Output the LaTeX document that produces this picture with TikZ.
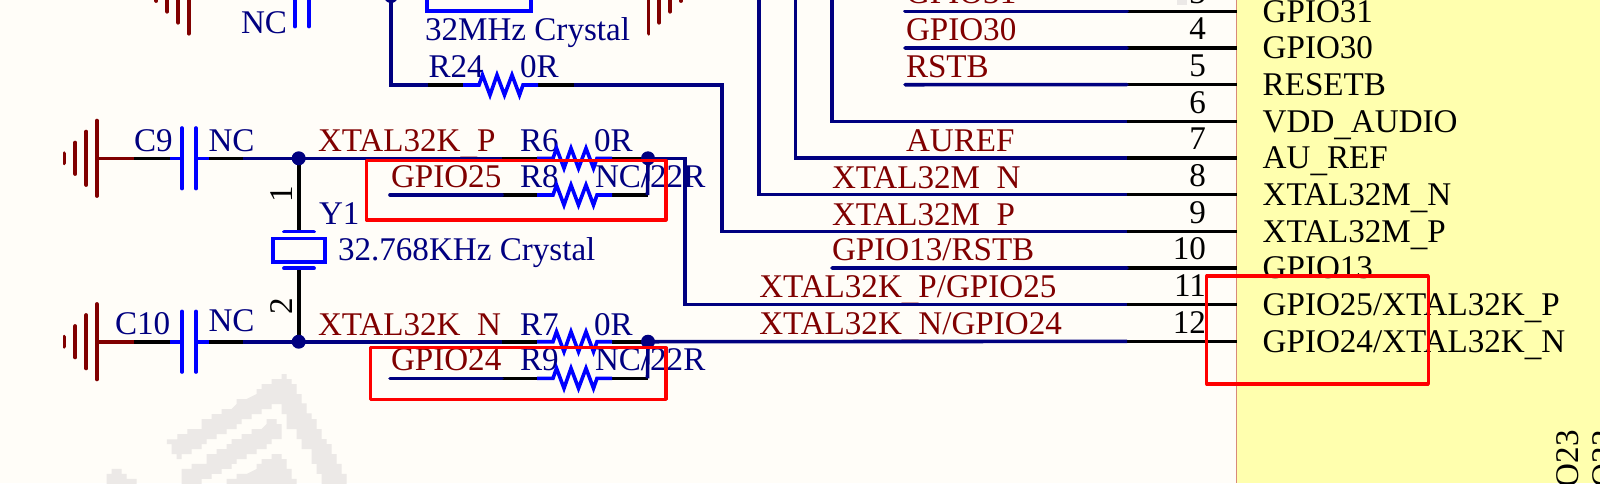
\documentclass[tikz,border=0pt]{standalone}
\usepackage{fontspec}
\setmainfont{Liberation Serif}
\definecolor{bgc}{HTML}{FFFDF8}
\definecolor{wire}{HTML}{000080}
\definecolor{part}{HTML}{0000FF}
\definecolor{net}{HTML}{800000}
\definecolor{chip}{HTML}{FFFFAE}
\definecolor{edgec}{HTML}{D88A78}
\definecolor{wmgray}{HTML}{ECE9E7}
\newcommand\us{\raisebox{-3pt}{\_}}
\tikzset{
  txt/.style={inner sep=0pt,outer sep=0pt,anchor=base west,font=\fontsize{33.1}{36}\selectfont},
  des/.style={txt,text=wire},
  netl/.style={txt,text=net},
  pinl/.style={txt,text=black},
  num/.style={txt,text=black,anchor=base east},
  netw/.style={draw=wire,line width=3.6pt,line join=miter},
  pinw/.style={draw=black,line width=3.6pt},
  partw/.style={draw=part,line width=3.6pt},
  gndw/.style={draw=net,line width=3.8pt,line cap=round},
  hl/.style={draw=red,line width=3.2pt,line join=round},
  dot/.style={fill=wire,draw=none},
  wm/.style={fill=wmgray},
  res/.pic={
    \coordinate (-in) at (-35,0);
    \coordinate (-out) at (110.5,0);
    \draw[pinw] (-35,0) -- (0,0);
    \draw[pinw] (75,0) -- (110.5,0);
    \draw[partw,line join=miter] (0,0) -- (16,0) -- (19.5,-10) -- (27,10) -- (34,-10) -- (41.5,10) -- (49,-10) -- (56.5,10) -- (60,0) -- (75,0);
  },
  capa/.pic={
    \coordinate (-l) at (0,0);
    \coordinate (-r) at (109,0);
    \draw[pinw] (0,0) -- (36,0);
    \draw[pinw] (74.5,0) -- (109,0);
    \draw[partw] (36,0) -- (48,0);
    \draw[partw] (62,0) -- (74.5,0);
    \draw[partw,line cap=round] (48,-30.3) -- (48,30.3);
    \draw[partw,line cap=round] (62,-30.3) -- (62,30.3);
  },
  gnd/.pic={
    \coordinate (-end) at (37,0);
    \draw[draw=net,line width=3.6pt] (0,0) -- (37,0);
    \draw[gndw] (0,-37.7) -- (0,37.7);
    \draw[gndw] (-10.7,-26.7) -- (-10.7,26.7);
    \draw[gndw] (-21.7,-15.7) -- (-21.7,15.7);
    \draw[gndw] (-32.5,-5) -- (-32.5,5);
  }
}
\begin{document}
\begin{tikzpicture}[x=1pt,y=-1pt]
\useasboundingbox (0,0) rectangle (1600,483);
\clip (0,0) rectangle (1600,483);
\fill[bgc] (0,0) rectangle (1600,483);
% watermark
\begin{scope}[shift={(90,360)},x=0.3333pt,y=-0.3333pt]
\fill[wm] (231,238)--(262,238)--(262,222)--(292,222)--(292,207)--(335,207)--(335,177)--(365,177)--(365,162)--(395,162)--(395,147)--(425,147)--(440,132)--(440,117)--(470,117)--(500,102)--(500,87)--(515,87)--(515,72)--(545,72)--(545,57)--(575,57)--(575,42)--(590,42)--(590,57)--(605,57)--(605,72)--(620,72)--(620,102)--(635,102)--(635,130)--(650,130)--(650,160)--(665,160)--(665,177)--(680,177)--(680,207)--(695,207)--(695,237)--(710,237)--(710,252)--(725,252)--(725,282)--(740,282)--(740,312)--(755,312)--(755,342)--(770,342)--(770,372)--(695,372)--(695,342)--(680,342)--(680,312)--(665,312)--(665,267)--(635,267)--(635,237)--(620,237)--(620,207)--(590,207)--(590,162)--(575,162)--(575,132)--(545,132)--(545,147)--(515,147)--(515,162)--(485,162)--(485,177)--(455,177)--(455,192)--(440,192)--(440,207)--(410,207)--(410,222)--(380,222)--(380,237)--(350,237)--(350,252)--(335,252)--(335,267)--(305,267)--(305,282)--(275,282)--(275,297)--(260,297)--(260,282)--(245,282)--(245,252)--(231,252)--cycle;
\fill[wm] (275,372)--(275,327)--(305,327)--(305,312)--(350,312)--(350,282)--(380,282)--(380,267)--(410,267)--(410,252)--(425,252)--(425,237)--(455,237)--(455,222)--(485,222)--(485,207)--(515,207)--(530,192)--(530,177)--(560,177)--(560,192)--(575,192)--(575,237)--(545,237)--(545,252)--(530,252)--(530,267)--(500,267)--(500,282)--(470,282)--(470,297)--(440,297)--(440,312)--(425,312)--(425,327)--(395,327)--(395,342)--(365,342)--(365,357)--(335,357)--(335,372)--cycle;
\fill[wm] (410,372)--(410,357)--(440,357)--(440,342)--(470,342)--(500,327)--(500,312)--(515,312)--(515,297)--(545,297)--(545,282)--(575,282)--(575,297)--(590,297)--(590,327)--(605,327)--(605,357)--(620,357)--(620,372)--cycle;
\fill[wm] (50,372)--(50,342)--(65,342)--(65,327)--(95,327)--(95,342)--(110,342)--(110,357)--(140,357)--(140,372)--cycle;
\end{scope}
\fill[wm] (1177,0) rectangle (1187,5);
% chip body
\fill[chip] (1236.7,0) rectangle (1600,483);
\draw[edgec,line width=1pt] (1236.7,0) -- (1236.7,483);
% pin names, numbers, pin ends
\foreach \n/\pn in {3/GPIO31,4/GPIO30,5/RESETB,6/VDD\us AUDIO,7/AU\us REF,8/XTAL32M\us N,9/XTAL32M\us P,10/GPIO13,11/GPIO25\slash XTAL32K\us P,12/GPIO24\slash XTAL32K\us N}{
  \pgfmathsetmacro\yy{11.3+36.67*(\n-3)}
  \coordinate (w\n) at (1127,\yy);
  \coordinate (e\n) at (1237,\yy);
  \node[pinl] (name\n) at (1262.7,\yy+10.7) {\pn};
  \node[num] (num\n) at (1206,\yy-8) {\n};
  \draw[pinw] (w\n) -- (e\n);
}
% rotated package pin names
\node[txt,text=black,rotate=90,anchor=base east] (n23) at (1578,430) {GPIO23};
\node[txt,text=black,rotate=90,anchor=base east] (n22) at (1614.7,430) {GPIO22};
% net labels
\node[netl] (l31) at (906,3.7) {GPIO31};
\node[netl] (l30) at (906,40.7) {GPIO30};
\node[netl] (l5) at (906,77.3) {RSTB};
\node[netl] (l7) at (906,151.7) {AUREF};
\node[netl] (l8) at (832,188.3) {XTAL32M\us N};
\node[netl] (l9) at (832,225) {XTAL32M\us P};
\node[netl] (l10) at (832,260.7) {GPIO13/RSTB};
\node[netl] (l11) at (759.3,297.3) {XTAL32K\us P/GPIO25};
\node[netl] (l12) at (759.3,334.7) {XTAL32K\us N/GPIO24};
\node[netl] (lp) at (318,151) {XTAL32K\us P};
\node[netl] (ln) at (318,335) {XTAL32K\us N};
\node[netl] (lg25) at (391,187) {GPIO25};
\node[netl] (lg24) at (391,370.7) {GPIO24};
% designators
\node[des] (tnc0) at (241,33) {NC};
\node[des] (tc32) at (425,40) {32MHz Crystal};
\node[des] (tr24) at (428.6,77.7) {R24};
\node[des] (t0r24) at (520,77.7) {0R};
\node[des] (tc9) at (134,151) {C9};
\node[des] (tnc9) at (208.5,151) {NC};
\node[des] (tr6) at (520,151) {R6};
\node[des] (t0r6) at (594,151) {0R};
\node[des] (tr8) at (520,187) {R8};
\node[des] (tnc8) at (595,187) {NC/22R};
\node[des] (ty1) at (319,224) {Y1};
\node[des] (ty1v) at (338,260) {32.768KHz Crystal};
\node[des] (tc10) at (115,334) {C10};
\node[des] (tnc10) at (208.5,331) {NC};
\node[des] (tr7) at (520,335) {R7};
\node[des] (t0r7) at (594,335) {0R};
\node[des] (tr9) at (520,370.7) {R9};
\node[des] (tnc9b) at (595,370.7) {NC/22R};
\node[txt,text=black,rotate=90,anchor=base] (py1) at (292,194) {1};
\node[txt,text=black,rotate=90,anchor=base] (py2) at (292,306) {2};
% coordinates
\coordinate (jp) at (298.7,158.3);
\coordinate (jn) at (298.7,341.7);
\coordinate (jr) at (648,158.3);
\coordinate (js) at (648,341.7);
\coordinate (jt) at (391,-4);
\coordinate (s25) at (390,195);
\coordinate (s24) at (390,378.3);
% parts
\pic (G1) at (96.9,158.3) {gnd};
\pic (G2) at (96.9,341.7) {gnd};
\pic (G3) at (188.8,-4) {gnd};
\pic[xscale=-1] (G4) at (648.5,-4) {gnd};
\pic (C9) at (134,158.3) {capa};
\pic (C10) at (134,341.7) {capa};
\pic (C0) at (247,-3.7) {capa};
\pic (R24) at (463,85) {res};
\pic (R6) at (537,158.3) {res};
\pic (R8) at (537,195) {res};
\pic (R7) at (537,341.7) {res};
\pic (R9) at (537,378.3) {res};
% crystals
\draw[partw,line width=4pt] (427.3,-20) rectangle (530.7,10.5);
\coordinate (yt) at (298.7,230);
\coordinate (yb) at (298.7,269);
\draw[pinw] (jp) -- (yt);
\draw[pinw] (yb) -- (jn);
\draw[partw,line width=3.8pt,line cap=round] (284,231.5) -- (314,231.5);
\draw[partw,line width=3.8pt,line cap=round] (284,268.3) -- (314,268.3);
\draw[partw,line width=3.8pt] (273,238.5) rectangle (325,261.7);
% nets
\draw[netw] (C9-r) -- (jp) -- (R6-in);
\draw[netw] (C10-r) -- (jn) -- (R7-in);
\draw[netw] (R6-out) -- (685,158.3) |- (w11);
\draw[netw] (R7-out) -- (w12);
\draw[netw,line cap=round] (s25) -- (R8-in);
\draw[netw,line cap=round] (s24) -- (R9-in);
\draw[netw] (jr) -- (R8-out);
\draw[netw] (js) -- (R9-out);
\draw[netw] (jt) |- (R24-in);
\draw[netw] (R24-out) -- (721.7,85) |- (w9);
\draw[netw] (758.7,-10) |- (w8);
\draw[netw] (795.3,-10) |- (w7);
\draw[netw] (832,-10) |- (w6);
\draw[netw,line cap=round] (905,11.3) -- (w3);
\draw[netw,line cap=round] (905,48) -- (w4);
\draw[netw,line cap=round] (905,84.7) -- (w5);
\draw[netw,line cap=round] (832,268) -- (w10);
% junctions
\foreach \j in {jp,jn,jr,js,jt}{ \fill[dot] (\j) circle[radius=7]; }
% highlight boxes
\draw[hl] (366.5,160.7) rectangle (666,220);
\draw[hl] (370.5,347.7) rectangle (666,399.3);
\draw[hl] (1206.7,276) rectangle (1428.3,384);
\end{tikzpicture}
\end{document}
